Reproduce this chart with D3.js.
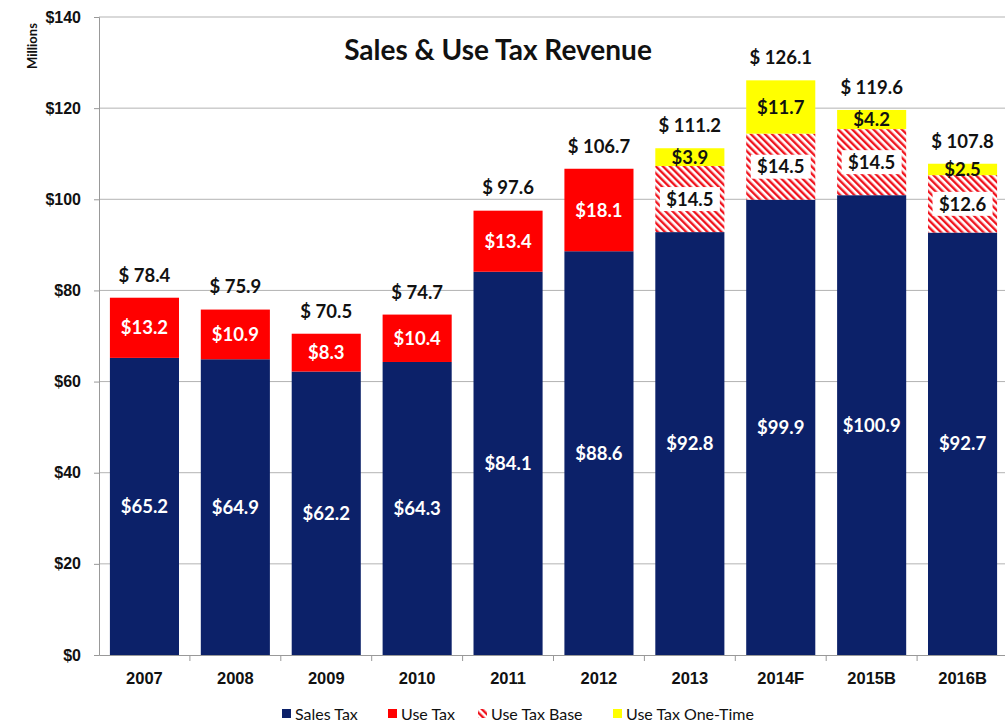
<!DOCTYPE html>
<html>
<head>
<meta charset="utf-8">
<script src="https://cdn.jsdelivr.net/npm/d3@7"></script>
<style>
  body { margin: 0; background: #fff; }
  svg { font-family: Lato, "Open Sans", sans-serif; }
</style>
</head>
<body>
<div id="chart"></div>
<script>
// values in millions
const years = ["2007", "2008", "2009", "2010", "2011", "2012", "2013", "2014F", "2015B", "2016B"];
const salesTax = [65.2, 64.9, 62.2, 64.3, 84.1, 88.6, 92.8, 99.9, 100.9, 92.7];
const useTax = [13.2, 10.9, 8.3, 10.4, 13.4, 18.1, 0, 0, 0, 0];
const useTaxBase = [0, 0, 0, 0, 0, 0, 14.5, 14.5, 14.5, 12.6];
const useTaxOneTime = [0, 0, 0, 0, 0, 0, 3.9, 11.7, 4.2, 2.5];
const totals = [78.4, 75.9, 70.5, 74.7, 97.6, 106.7, 111.2, 126.1, 119.6, 107.8];
const yTicks = [0, 20, 40, 60, 80, 100, 120, 140];

const seriesKeys = ["sales", "use", "base", "onetime"];
const seriesNames = ["Sales Tax", "Use Tax", "Use Tax Base", "Use Tax One-Time"];
const rows = years.map((y, i) => ({year: y, sales: salesTax[i], use: useTax[i], base: useTaxBase[i], onetime: useTaxOneTime[i], total: totals[i]}));

const W = 1005, H = 724;
const margin = {top: 17, right: 0, bottom: 69, left: 99};

const svg = d3.select("#chart").append("svg")
  .attr("width", W).attr("height", H);

const defs = svg.append("defs");
const pat = defs.append("pattern")
  .attr("id", "hatch")
  .attr("patternUnits", "userSpaceOnUse")
  .attr("width", 5).attr("height", 5)
  .attr("patternTransform", "rotate(-45)");
pat.append("rect").attr("width", 5).attr("height", 5).attr("fill", "#fff");
pat.append("rect").attr("width", 2.4).attr("height", 5).attr("fill", "#f0141e");

const fills = {sales: "#0c2169", use: "#ff0000", base: "url(#hatch)", onetime: "#ffff00"};

const x = d3.scaleBand()
  .domain(years)
  .range([margin.left, 1008])
  .paddingInner(0.24)
  .paddingOuter(0.12);

const y = d3.scaleLinear()
  .domain([0, 140])
  .range([655, 17]);

// gridlines
svg.append("g")
  .selectAll("line")
  .data(yTicks.filter(d => d > 0))
  .join("line")
  .attr("x1", margin.left).attr("x2", W)
  .attr("y1", d => y(d)).attr("y2", d => y(d))
  .attr("stroke", "#b3b3b3").attr("stroke-width", 1);

// y axis
const yAxis = svg.append("g")
  .attr("transform", "translate(" + margin.left + ",0)")
  .call(d3.axisLeft(y).tickValues(yTicks).tickSize(5).tickPadding(13).tickFormat(d => "$" + d));
yAxis.select(".domain").attr("stroke", "#999");
yAxis.selectAll(".tick line").attr("stroke", "#999");
yAxis.selectAll("text").attr("font-size", 16).attr("font-weight", "bold").attr("fill", "#111");

svg.append("text")
  .attr("transform", "translate(37,46) rotate(-90)")
  .attr("text-anchor", "middle")
  .attr("font-size", 13).attr("font-weight", "bold").attr("fill", "#111")
  .text("Millions");

// stacked bars
const stack = d3.stack().keys(seriesKeys);
const stacked = stack(rows);

const layers = svg.append("g")
  .selectAll("g")
  .data(stacked)
  .join("g")
  .attr("fill", d => fills[d.key]);

layers.selectAll("rect")
  .data(d => d.filter(s => s[1] - s[0] > 0))
  .join("rect")
  .attr("x", d => x(d.data.year))
  .attr("width", x.bandwidth())
  .attr("y", d => y(d[1]))
  .attr("height", d => y(d[0]) - y(d[1]));

// x axis
const xAxis = svg.append("g")
  .attr("transform", "translate(0,655)")
  .call(d3.axisBottom(x).tickSize(0).tickPadding(17));
xAxis.select(".domain").attr("stroke", "#999");
xAxis.selectAll("text").attr("font-size", 16.5).attr("font-weight", "bold").attr("fill", "#111");
// category separators
svg.append("g")
  .selectAll("line")
  .data(years.slice(0, -1))
  .join("line")
  .attr("x1", d => x(d) + x.step() - (x.step() - x.bandwidth()) / 2)
  .attr("x2", d => x(d) + x.step() - (x.step() - x.bandwidth()) / 2)
  .attr("y1", 655).attr("y2", 661)
  .attr("stroke", "#999");

// segment labels
const labelColors = {sales: "#fff", use: "#fff", base: "#111", onetime: "#111"};
stacked.forEach(layer => {
  const g = svg.append("g");
  layer.filter(s => s[1] - s[0] > 0).forEach(s => {
    const cx = x(s.data.year) + x.bandwidth() / 2;
    const cy = (y(s[0]) + y(s[1])) / 2;
    const txt = "$" + (s[1] - s[0]).toFixed(1);
    if (layer.key === "base") {
      g.append("rect")
        .attr("x", cx - 30).attr("y", cy - 12)
        .attr("width", 60).attr("height", 24)
        .attr("fill", "#fff");
    }
    g.append("text")
      .attr("x", cx).attr("y", cy)
      .attr("dy", "0.36em")
      .attr("text-anchor", "middle")
      .attr("font-size", 18.5).attr("font-weight", "bold")
      .attr("fill", labelColors[layer.key])
      .text(txt);
  });
});

// total labels
svg.append("g")
  .selectAll("text")
  .data(rows)
  .join("text")
  .attr("x", d => x(d.year) + x.bandwidth() / 2)
  .attr("y", d => y(d.total) - 16)
  .attr("text-anchor", "middle")
  .attr("font-size", 18.5).attr("font-weight", "bold").attr("fill", "#111")
  .text(d => "$ " + d.total.toFixed(1));

// title
svg.append("text")
  .attr("x", 498).attr("y", 60)
  .attr("text-anchor", "middle")
  .attr("font-size", 28).attr("font-weight", "bold").attr("fill", "#111")
  .text("Sales & Use Tax Revenue");

// legend
const legendX = [282, 388, 478, 613];
const legend = svg.append("g")
  .selectAll("g")
  .data(seriesKeys)
  .join("g")
  .attr("transform", (d, i) => "translate(" + legendX[i] + ",714)");
legend.append("rect")
  .attr("x", 0).attr("y", -5)
  .attr("width", 9).attr("height", 9)
  .attr("fill", d => fills[d]);
legend.append("text")
  .attr("x", 13).attr("y", 0)
  .attr("dy", "0.35em")
  .attr("font-size", 16).attr("fill", "#111")
  .text((d, i) => seriesNames[i]);
</script>
</body>
</html>
